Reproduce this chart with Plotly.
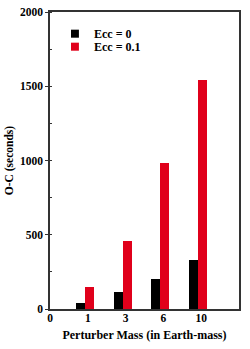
import plotly.graph_objects as go

masses = ["1", "3", "6", "10"]
positions = [1, 2, 3, 4]
ecc0 = [40, 112, 204, 328]
ecc01 = [148, 460, 982, 1541]
series_names = ["Ecc = 0", "Ecc = 0.1"]
tick_vals = [0, 1, 2, 3, 4]
tick_text = ["0", "1", "3", "6", "10"]
y_tick_vals = [0, 500, 1000, 1500, 2000]

FONT = "Liberation Serif"
RED = "#e0001b"
colors = ["black", RED]

fig = go.Figure()
fig.add_trace(go.Bar(x=positions, y=ecc0, width=0.24, offset=-0.32, name=series_names[0],
                     marker=dict(color=colors[0], line=dict(width=0)), showlegend=False))
fig.add_trace(go.Bar(x=positions, y=ecc01, width=0.24, offset=-0.08, name=series_names[1],
                     marker=dict(color=colors[1], line=dict(width=0)), showlegend=False))

# custom compact legend (paper coordinates)
shapes = []
annotations = []
for i, (nm, c) in enumerate(zip(series_names, colors)):
    yc = 0.927 - i * 0.0438
    shapes.append(dict(type="rect", xref="paper", yref="paper",
                       x0=0.111, x1=0.153, y0=yc - 0.0135, y1=yc + 0.0135,
                       fillcolor=c, line=dict(width=0)))
    annotations.append(dict(text="<b>%s</b>" % nm, xref="paper", yref="paper",
                            x=0.222, y=yc, xanchor="left", yanchor="middle",
                            showarrow=False, font=dict(family=FONT, size=12, color="black")))

fig.update_layout(
    width=250, height=349,
    margin=dict(l=50, r=11, t=12, b=40, autoexpand=False),
    paper_bgcolor="white", plot_bgcolor="white",
    font=dict(family=FONT, size=12, color="black"),
    showlegend=False,
    bargap=0,
    shapes=shapes,
    annotations=annotations,
)
fig.update_xaxes(range=[0, 5], tickvals=tick_vals,
                 ticktext=["<b>%s</b>" % t for t in tick_text], automargin=False,
                 showgrid=False, zeroline=False, showline=True, mirror=True,
                 linecolor="#333", linewidth=1.5, ticks="", ticklen=0,
                 ticklabelstandoff=-3,
                 tickfont=dict(family=FONT, size=11.5),
                 title=dict(text="<b>Perturber Mass (in Earth-mass)</b>",
                            font=dict(family=FONT, size=12), standoff=8))
fig.update_yaxes(range=[0, 2000], tickvals=y_tick_vals,
                 ticktext=["<b>%d</b>" % v for v in y_tick_vals], automargin=False,
                 showgrid=False, zeroline=False, showline=True, mirror=True,
                 linecolor="#333", linewidth=1.5,
                 ticks="outside", ticklen=3, tickcolor="#333", tickwidth=1.2,
                 minor=dict(dtick=250, ticks="inside", ticklen=2, tickcolor="#333"),
                 tickfont=dict(family=FONT, size=11.5),
                 title=dict(text="<b>O-C (seconds)</b>",
                            font=dict(family=FONT, size=11.5), standoff=4))

fig.write_html("out.html", config={"displayModeBar": False},
               post_script="document.body.style.margin='0';document.body.style.overflow='hidden';")
